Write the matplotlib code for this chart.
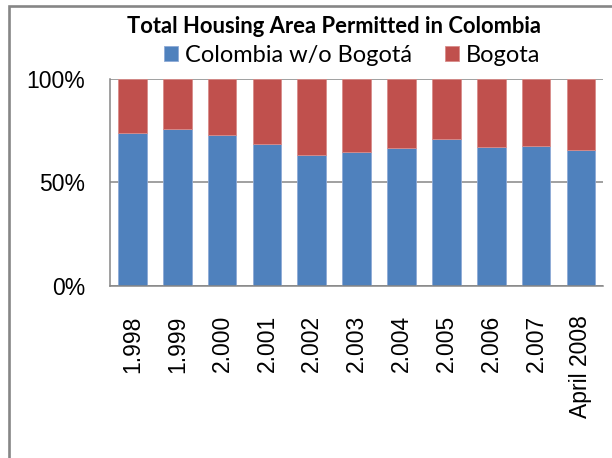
import matplotlib
matplotlib.use("Agg")
import matplotlib.pyplot as plt
from matplotlib.patches import Rectangle
import numpy as np

# share of permitted housing area, percent
years = ["1.998", "1.999", "2.000", "2.001", "2.002", "2.003",
         "2.004", "2.005", "2.006", "2.007", "April 2008"]
rest_of_colombia = [73.9, 75.7, 72.7, 68.6, 63.3, 64.5, 66.4, 71.0, 66.9, 67.4, 65.4]
bogota = [100 - v for v in rest_of_colombia]

BLUE = "#4F81BD"
RED = "#C0504D"
GRAY = "#868686"

fig = plt.figure(figsize=(6.12, 4.58), dpi=100)
ax = fig.add_axes([110 / 612, 172 / 458, 493.3 / 612, 207.4 / 458])

x = np.arange(len(years))
blue = np.array(rest_of_colombia) / 100
red = np.array(bogota) / 100
ax.bar(x, blue, width=0.64, color=BLUE, edgecolor="#8EAAD6", linewidth=0.6,
       label="Colombia w/o Bogotá", zorder=2)
ax.bar(x, red, width=0.64, bottom=blue, color=RED, edgecolor="#D88C8A",
       linewidth=0.6, label="Bogota", zorder=2)

ax.set_xlim(-0.5, len(years) - 0.5)
ax.set_ylim(0, 1)
ax.set_yticks([0, 0.5, 1])
ax.set_yticklabels(["0%", "50%", "100%"])
ax.set_xticks(x)
ax.set_xticklabels(years, rotation=90, va="top", ha="center")

tick_font = dict(family="Liberation Sans", size=16.5)
for lab in ax.get_xticklabels() + ax.get_yticklabels():
    lab.set_fontfamily(tick_font["family"])
    lab.set_fontsize(tick_font["size"])
ax.tick_params(axis="x", length=0, pad=21)
ax.tick_params(axis="y", length=0, pad=18)

ax.yaxis.grid(True, color=GRAY, linewidth=1.1, zorder=0)
ax.set_axisbelow(True)
for side in ["top", "right"]:
    ax.spines[side].set_visible(False)
for side in ["left", "bottom"]:
    ax.spines[side].set_color(GRAY)
    ax.spines[side].set_linewidth(1.1)

fig.text(334 / 612, 1 - 32.7 / 458, "Total Housing Area Permitted in Colombia",
         ha="center", va="baseline", fontsize=15.8, fontweight="bold",
         family="Lato")

handles, labels = ax.get_legend_handles_labels()
fig.legend(handles, labels, loc="center", bbox_to_anchor=(352 / 612, 1 - 55 / 458),
           ncol=2, frameon=False, prop=dict(family="Lato", size=17),
           handlelength=0.6, handleheight=0.6, handletextpad=0.3,
           columnspacing=1.4, borderpad=0, borderaxespad=0)

# chart frame around the whole figure
fig.patches.append(Rectangle((9 / 612, -0.2), 1.2, 1.2 - 6 / 458,
                             transform=fig.transFigure, fill=False,
                             edgecolor=GRAY, linewidth=1.9))

fig.savefig("out.png", dpi=100)
